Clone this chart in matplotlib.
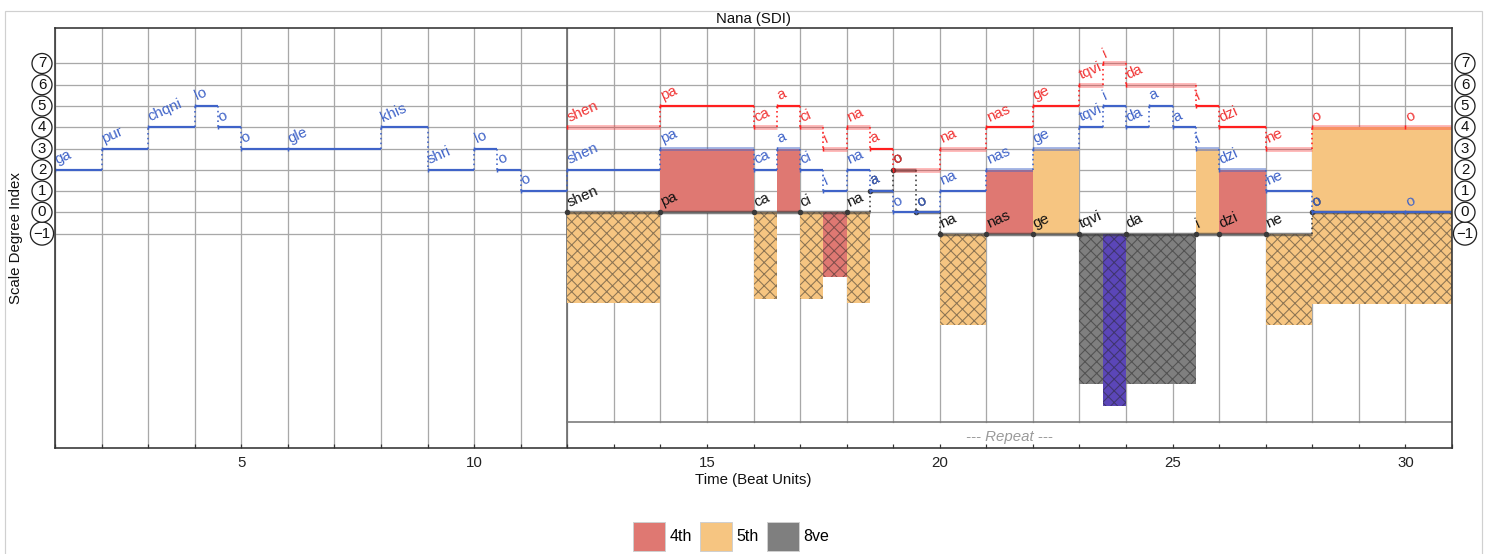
import matplotlib
matplotlib.use('Agg')
import matplotlib.pyplot as plt
from matplotlib.patches import Patch, Rectangle

W, H, DPI = 1493, 554, 140
PT = 72 / DPI  # pixel -> point

# ---------------- data ----------------
END = 31

# first part, single voice (beats 1-12)
solo_syll = ['ga', 'pur', 'chqni', 'lo', 'o', 'o', 'gle', 'khis', 'shri', 'lo', 'o', 'o']
solo_start = [1, 2, 3, 4, 4.5, 5, 6, 8, 9, 10, 10.5, 11]
solo_deg = [2, 3, 4, 5, 4, 3, 3, 4, 2, 3, 2, 1]
SOLO_END = 12

# three voices (beats 12-31)
top_syll = ['shen', 'pa', 'ca', 'a', 'ci', 'i', 'na', 'a', 'o', 'na', 'nas', 'ge',
            'tqvi', 'i', 'da', 'i', 'dzi', 'ne', 'o', 'o']
top_start = [12, 14, 16, 16.5, 17, 17.5, 18, 18.5, 19, 20, 21, 22,
             23, 23.5, 24, 25.5, 26, 27, 28, 30]
top_deg = [4, 5, 4, 5, 4, 3, 4, 3, 2, 3, 4, 5, 6, 7, 6, 5, 4, 3, 4, 4]

mid_syll = ['shen', 'pa', 'ca', 'a', 'ci', 'i', 'na', 'a', 'o', 'o', 'na', 'nas', 'ge',
            'tqvi', 'i', 'da', 'a', 'a', 'i', 'dzi', 'ne', 'o', 'o']
mid_start = [12, 14, 16, 16.5, 17, 17.5, 18, 18.5, 19, 19.5, 20, 21, 22,
             23, 23.5, 24, 24.5, 25, 25.5, 26, 27, 28, 30]
mid_deg = [2, 3, 2, 3, 2, 1, 2, 1, 0, 0, 1, 2, 3, 4, 5, 4, 5, 4, 3, 2, 1, 0, 0]

bot_syll = ['shen', 'pa', 'ca', 'ci', 'na', 'a', 'o', 'o', 'na', 'nas', 'ge',
            'tqvi', 'da', 'i', 'dzi', 'ne', 'o']
bot_start = [12, 14, 16, 17, 18, 18.5, 19, 19.5, 20, 21, 22, 23, 24, 25.5, 26, 27, 28]
bot_deg = [0, 0, 0, 0, 0, 1, 2, 0, -1, -1, -1, -1, -1, -1, -1, -1, 0]

# outer-voice interval bars hanging under the lowest voice
bar_start = [12, 16, 17, 17.5, 18, 20, 23, 23.5, 24, 27, 28]
bar_end = [14, 16.5, 17.5, 18, 18.5, 21, 23.5, 24, 25.5, 28, 31]
bar_depth = [4.28, 4.1, 4.1, 3.05, 4.28, 4.28, 7.1, 8.1, 7.1, 4.28, 4.3]
bar_kind = ['5th', '5th', '5th', '4th', '5th', '5th', '8ve', '9th', '8ve', '5th', '5th']

legend_names = ['4th', '5th', '8ve']

# ---------------- style ----------------
C = {'4th': '#df7872', '5th': '#f6c581', '8ve': '#7f7f7f', '9th': '#5b46b8'}
RED = '#ff1f1f'
BLUE = '#3f63c8'
BLACK = '#3a3a3a'
GRID = '#a8a8a8'
YLO, YHI = -11.09, 8.67
REPEAT_Y = -9.87

plt.rcParams['font.family'] = ['Liberation Sans', 'DejaVu Sans']
plt.rcParams['hatch.linewidth'] = 0.55


def level(starts, degs, t):
    idx = 0
    for i, s in enumerate(starts):
        if s <= t + 1e-9:
            idx = i
    return degs[idx]


fig = plt.figure(figsize=(W / DPI, H / DPI), dpi=DPI)
ax = fig.add_axes([55 / W, 1 - 448 / H, (1452 - 55) / W, (448 - 28) / H])
ax.set_xlim(1, END)
ax.set_ylim(YLO, YHI)

# grid
for x in range(1, END + 1):
    ax.plot([x, x], [REPEAT_Y if x > 12 else YLO, YHI], color=GRID, lw=1.3 * PT, zorder=0)
for y in range(-1, 8):
    ax.plot([1, END], [y, y], color=GRID, lw=1.3 * PT, zorder=0)
ax.plot([12, 12], [YLO, YHI], color='#666666', lw=1.6 * PT, zorder=0.5)
ax.plot([12, END], [REPEAT_Y, REPEAT_Y], color='#777777', lw=1.6 * PT, zorder=0.5)
ax.text((12 + END) / 2, (REPEAT_Y + YLO) / 2 - 0.1, '--- Repeat ---', style='italic',
        color='#9a9a9a', fontsize=15 * PT, ha='center', va='center')

# solid fills between neighbouring voices
cuts = sorted(set(top_start + mid_start + bot_start + [END]))
fill_kind = {3: '4th', 4: '5th'}
for t0, t1 in zip(cuts[:-1], cuts[1:]):
    r = level(top_start, top_deg, t0)
    m = level(mid_start, mid_deg, t0)
    b = level(bot_start, bot_deg, t0)
    if m - b in fill_kind:
        ax.bar(t0, m - b, width=t1 - t0, bottom=b, align='edge',
               color=C[fill_kind[m - b]], lw=0, zorder=1)
    if r - m == 4:
        ax.bar(t0, r - m, width=t1 - t0, bottom=m, align='edge',
               color=C['5th'], lw=0, zorder=1)

# hatched bars for outer interval
for s, e, d, k in zip(bar_start, bar_end, bar_depth, bar_kind):
    top = level(bot_start, bot_deg, s)
    ax.bar(s, -d, width=e - s, bottom=top, align='edge', color=C[k],
           hatch='xxxx', edgecolor=(0.15, 0.15, 0.15, 0.5), lw=0, zorder=1)


def draw_voice(starts, end, degs, sylls, color, tcolor, faded, lw, fade_lw, fade_alpha, marker):
    ends = starts[1:] + [end]
    for i in range(len(starts)):
        s, e, d = starts[i], ends[i], degs[i]
        if faded[i]:
            ax.plot([s, e], [d, d], color=color, lw=fade_lw * PT, alpha=fade_alpha,
                    solid_capstyle='butt', zorder=3)
        else:
            ax.plot([s, e], [d, d], color=color, lw=lw * PT, solid_capstyle='butt', zorder=3)
        if i > 0 and degs[i - 1] != d:
            ax.plot([s, s], [degs[i - 1], d], color=color, lw=1.6 * PT, ls=(0, (1, 2)), zorder=3)
        ax.plot([s], [d], marker=marker, color=color, ms=4 * PT, mew=1.5 * PT, zorder=3)
        ax.text(s + 0.08, d + 0.14, sylls[i], color=tcolor, fontsize=15 * PT,
                rotation=24, rotation_mode='anchor', ha='left', va='bottom', zorder=4)


# single voice section
draw_voice(solo_start, SOLO_END, solo_deg, solo_syll, BLUE, BLUE,
           [False] * len(solo_deg), 2.2, 2.2, 1, '|')
ax.plot([12, 12], [solo_deg[-1], mid_deg[0]], color=BLUE, lw=1.6 * PT, ls=(0, (1, 2)), zorder=3)

top_faded = [(d - level(bot_start, bot_deg, s)) in (0, 3, 4, 7, 8)
             for s, d in zip(top_start, top_deg)]
mid_faded = [(d - level(bot_start, bot_deg, s)) in (3, 4)
             for s, d in zip(mid_start, mid_deg)]

draw_voice(bot_start, END, bot_deg, bot_syll, BLACK, '#111111',
           [True] * len(bot_deg), 2.5, 3.5, 0.6, 'o')
draw_voice(mid_start, END, mid_deg, mid_syll, BLUE, BLUE, mid_faded, 2.2, 4, 0.45, '|')
draw_voice(top_start, END, top_deg, top_syll, RED, '#f03535', top_faded, 2.2, 5, 0.3, '|')

# axes cosmetics
ax.set_xticks([5, 10, 15, 20, 25, 30])
ax.set_xticks(range(1, END + 1), minor=True)
ax.tick_params(axis='x', which='both', direction='in', length=4 * PT, width=1.2 * PT,
               labelsize=15 * PT, pad=8 * PT, colors='#333333')
ax.tick_params(axis='x', labelcolor='#222222')
ax.set_yticks([])
for sp in ax.spines.values():
    sp.set_color('#333333')
    sp.set_linewidth(1.6 * PT)
    sp.set_zorder(6)

ax.set_title('Nana (SDI)', fontsize=15 * PT, pad=5 * PT, color='#111111')
ax.set_xlabel('Time (Beat Units)', fontsize=15 * PT, labelpad=3 * PT, color='#111111')
ax.set_ylabel('Scale Degree Index', fontsize=15 * PT, color='#111111')
ax.yaxis.set_label_coords(-32 / 1397, 0.5)

# circled scale-degree labels on both sides
for d in range(-1, 8):
    txt = str(d).replace('-', '\u2212')
    for xa in (-13 / 1397, 1 + 13 / 1397):
        ax.text(xa, d, txt, transform=ax.get_yaxis_transform(), ha='center', va='center',
                fontsize=15 * PT, color='#111111', clip_on=False, zorder=7,
                bbox=dict(boxstyle='circle,pad=0.2', fc='white', ec='#222222', lw=1.3 * PT))

handles = [Patch(facecolor=C[n], edgecolor='#cfcfcf', lw=1 * PT, label=n) for n in legend_names]
fig.legend(handles=handles, loc='upper center', bbox_to_anchor=(731 / W, 1 - 522 / H),
           ncol=3, frameon=False, fontsize=16 * PT, handlelength=2.0, handleheight=2.4,
           handletextpad=0.3, columnspacing=0.5, borderaxespad=0, borderpad=0)

# light outer frame
fig.add_artist(Rectangle((5 / W, -0.1), 1477 / W, 1.1 - 11 / H, transform=fig.transFigure,
                         fill=False, edgecolor='#d0d0d0', lw=1.2 * PT))

fig.savefig('out.png', dpi=DPI)
